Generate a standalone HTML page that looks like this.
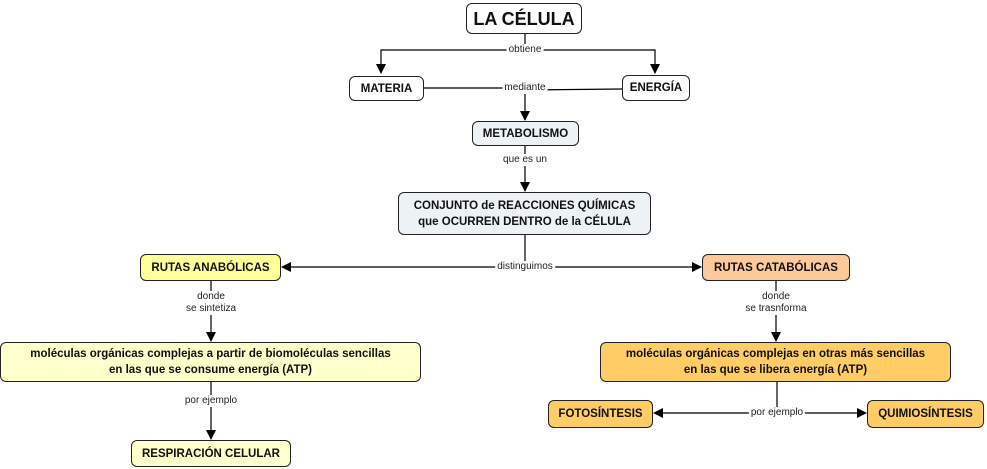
<!DOCTYPE html>
<html><head><meta charset="utf-8"><style>
body{margin:0;width:987px;height:469px;background:#fff;position:relative;overflow:hidden;font-family:"Liberation Sans",sans-serif}
.b{position:absolute;box-sizing:border-box;border:1px solid #222;border-radius:6px;display:flex;align-items:center;justify-content:center;text-align:center;font-weight:bold;font-size:11.5px;color:#111;line-height:16px}
.l{position:absolute;font-size:10px;color:#222;background:#fff;text-align:center;line-height:12px;transform:translateX(-50%);white-space:nowrap;padding:0 2px}
svg{position:absolute;left:0;top:0}
</style></head><body>
<svg width="987" height="469">
<defs><marker id="a" markerWidth="10" markerHeight="10" refX="9" refY="5" orient="auto" markerUnits="userSpaceOnUse"><path d="M0,0 L10,5 L0,10z" fill="#000"/></marker></defs>
<g stroke="#000" stroke-width="1.2" fill="none">
<line x1="525" y1="34" x2="525" y2="50"/>
<polyline points="525,50 381,50 381,73" marker-end="url(#a)"/>
<polyline points="525,50 655,50 655,73" marker-end="url(#a)"/>
<line x1="424" y1="88" x2="525" y2="88"/>
<line x1="622" y1="89" x2="525" y2="90"/>
<line x1="525" y1="88" x2="525" y2="120" marker-end="url(#a)"/>
<line x1="525" y1="146" x2="525" y2="191" marker-end="url(#a)"/>
<line x1="525" y1="235" x2="525" y2="267"/>
<line x1="525" y1="267" x2="282" y2="267" marker-end="url(#a)"/>
<line x1="525" y1="267" x2="701" y2="267" marker-end="url(#a)"/>
<line x1="211" y1="281" x2="211" y2="341" marker-end="url(#a)"/>
<line x1="776" y1="281" x2="776" y2="341" marker-end="url(#a)"/>
<line x1="211" y1="382" x2="211" y2="439" marker-end="url(#a)"/>
<line x1="777" y1="382" x2="777" y2="413"/>
<line x1="777" y1="413" x2="654" y2="413" marker-end="url(#a)"/>
<line x1="777" y1="413" x2="866" y2="413" marker-end="url(#a)"/>
</g></svg>
<div class="b" style="left:466px;top:3px;width:116px;height:31px;font-size:18px;background:#fff">LA CÉLULA</div>
<div class="b" style="left:349px;top:76px;width:75px;height:25px;background:#fff">MATERIA</div>
<div class="b" style="left:622px;top:75px;width:68px;height:26px;background:#fff">ENERGÍA</div>
<div class="b" style="left:472px;top:121px;width:107px;height:25px;background:#edf3f4">METABOLISMO</div>
<div class="b" style="left:398px;top:192px;width:253px;height:43px;background:#edf3f4">CONJUNTO de REACCIONES QUÍMICAS<br>que OCURREN DENTRO de la CÉLULA</div>
<div class="b" style="left:140px;top:254px;width:141px;height:27px;background:#ffff99">RUTAS ANABÓLICAS</div>
<div class="b" style="left:702px;top:254px;width:148px;height:27px;background:#fdc99b">RUTAS CATABÓLICAS</div>
<div class="b" style="left:0px;top:342px;width:421px;height:40px;background:#ffffcc">moléculas orgánicas complejas a partir de biomoléculas sencillas<br>en las que se consume energía (ATP)</div>
<div class="b" style="left:600px;top:342px;width:351px;height:40px;background:#ffcc66">moléculas orgánicas complejas en otras más sencillas<br>en las que se libera energía (ATP)</div>
<div class="b" style="left:131px;top:440px;width:160px;height:27px;background:#ffffcc">RESPIRACIÓN CELULAR</div>
<div class="b" style="left:548px;top:400px;width:105px;height:28px;background:#ffcc66">FOTOSÍNTESIS</div>
<div class="b" style="left:867px;top:400px;width:117px;height:28px;background:#ffcc66">QUIMIOSÍNTESIS</div>
<div class="l" style="left:525px;top:44px">obtiene</div>
<div class="l" style="left:525px;top:82px">mediante</div>
<div class="l" style="left:525px;top:154px">que es un</div>
<div class="l" style="left:525px;top:261px">distinguimos</div>
<div class="l" style="left:211px;top:291px">donde<br>se sintetiza</div>
<div class="l" style="left:776px;top:291px">donde<br>se trasnforma</div>
<div class="l" style="left:211px;top:395px">por ejemplo</div>
<div class="l" style="left:777px;top:407px">por ejemplo</div>
</body></html>
